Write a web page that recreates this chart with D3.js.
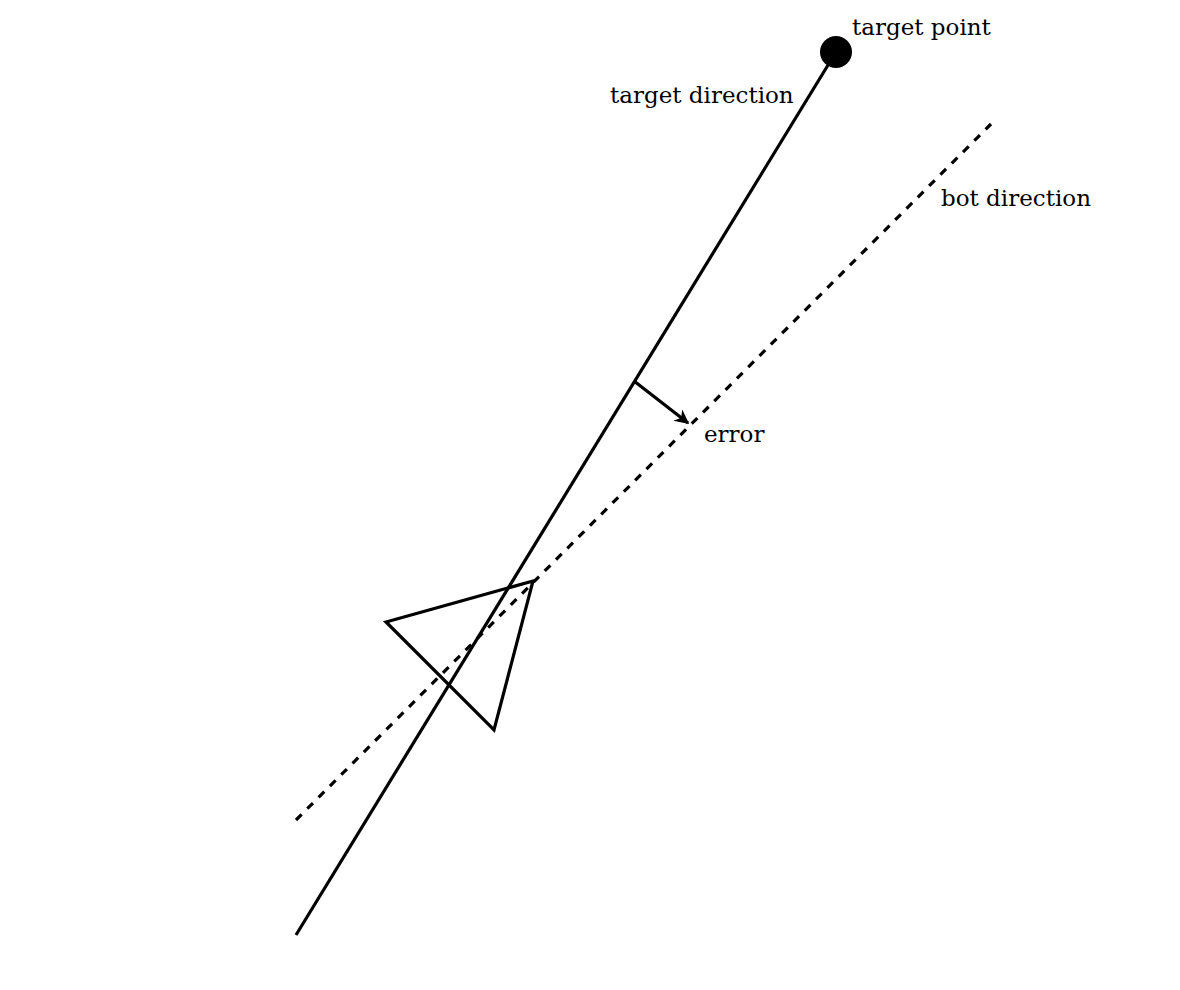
<!DOCTYPE html>
<html>
<head>
<meta charset="utf-8">
<script src="https://cdn.jsdelivr.net/npm/d3@7"></script>
<style>
  body { margin: 0; background: #fff; }
  .lbl { font-family: "DejaVu Serif", serif; font-size: 23px; fill: #000; }
</style>
</head>
<body>
<div id="output"></div>
<script>
// diagram units: x 0..11.8, y 0..9.9 (y up)
const targetLine = [[2.96, 0.55], [8.36, 9.38]];
const botLine = [[2.96, 1.70], [9.91, 8.66]];
const botTriangle = [[5.33, 4.09], [3.86, 3.68], [4.94, 2.60]];
const errorArrow = [[6.34, 6.09], [6.88, 5.67]];
const targetPoint = [8.36, 9.38];
const labels = [
  { text: 'target point', at: [8.52, 9.55] },
  { text: 'target direction', at: [6.10, 8.87] },
  { text: 'bot direction', at: [9.41, 7.84] },
  { text: 'error', at: [7.04, 5.48] }
];

const width = 1180, height = 990;
const x = d3.scaleLinear().domain([0, 11.8]).range([0, width]);
const y = d3.scaleLinear().domain([0, 9.9]).range([height, 0]);
const line = d3.line().x(d => x(d[0])).y(d => y(d[1]));

const svg = d3.select('#output').append('svg')
  .attr('width', width)
  .attr('height', height);

svg.append('defs').append('marker')
  .attr('id', 'head')
  .attr('viewBox', '0 0 10 10')
  .attr('refX', 9).attr('refY', 5)
  .attr('markerWidth', 4.5).attr('markerHeight', 4.5)
  .attr('orient', 'auto')
  .append('path')
  .attr('d', 'M0,0 L10,5 L0,10 L3,5 Z')
  .attr('fill', '#000');

// target direction
svg.append('path')
  .attr('d', line(targetLine))
  .attr('fill', 'none').attr('stroke', '#000').attr('stroke-width', 3.2);

// bot direction (dashed)
svg.append('path')
  .attr('d', line(botLine))
  .attr('fill', 'none').attr('stroke', '#000').attr('stroke-width', 3.2)
  .attr('stroke-dasharray', '8,8');

// bot
svg.append('path')
  .attr('d', line(botTriangle) + 'Z')
  .attr('fill', 'none').attr('stroke', '#000').attr('stroke-width', 3.2)
  .attr('stroke-linejoin', 'miter');

// error
svg.append('path')
  .attr('d', line(errorArrow))
  .attr('fill', 'none').attr('stroke', '#000').attr('stroke-width', 3.2)
  .attr('marker-end', 'url(#head)');

svg.append('circle')
  .attr('cx', x(targetPoint[0])).attr('cy', y(targetPoint[1]))
  .attr('r', 16).attr('fill', '#000');

svg.selectAll('.lbl')
  .data(labels)
  .join('text')
  .attr('class', 'lbl')
  .attr('x', d => x(d.at[0]))
  .attr('y', d => y(d.at[1]))
  .text(d => d.text);
</script>
</body>
</html>
